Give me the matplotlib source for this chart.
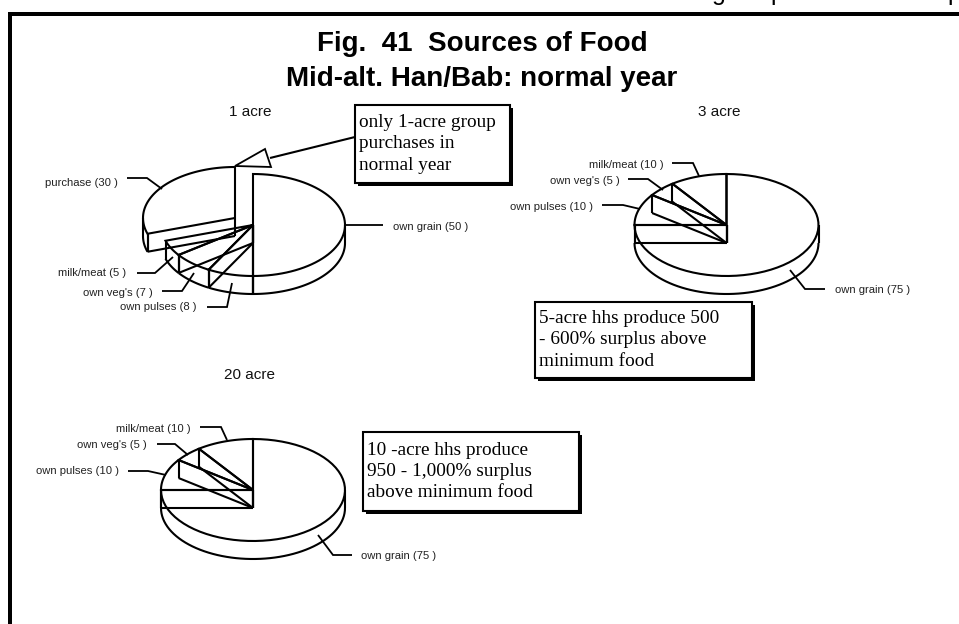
import numpy as np
import matplotlib
matplotlib.use("Agg")
import matplotlib.pyplot as plt
from matplotlib.patches import Polygon, Rectangle

W, H = 959, 624

# ---- data ----
cats_1 = ["own grain", "own pulses", "own veg's", "milk/meat", "purchase"]
vals_1 = [50, 8, 7, 5, 30]
cats_3 = ["own grain", "own pulses", "own veg's", "milk/meat"]
vals_3 = [75, 10, 5, 10]
cats_20 = ["own grain", "own pulses", "own veg's", "milk/meat"]
vals_20 = [75, 10, 5, 10]
pie_titles = ["1 acre", "3 acre", "20 acre"]
title_lines = ["Fig.  41  Sources of Food", "Mid-alt. Han/Bab: normal year"]
notes = ["only 1-acre group\npurchases in\nnormal year",
         "5-acre hhs produce 500\n- 600% surplus above\nminimum food",
         "10 -acre hhs produce\n950 - 1,000% surplus\nabove minimum food"]
cut_letters = ["g", "p", "p"]

RX, RY, DEPTH = 92, 51, 18
LW = 1.5

fig = plt.figure(figsize=(W / 100, H / 100), dpi=100)
ax = fig.add_axes([0, 0, 1, 1])
ax.set_xlim(0, W)
ax.set_ylim(H, 0)
ax.axis("off")


def pt(c, a, d=0.0):
    t = np.radians(a)
    return np.array([c[0] + RX * np.sin(t), c[1] - RY * np.cos(t) + d])


def line(xy, lw=LW, z=5):
    xy = np.asarray(xy)
    ax.plot(xy[:, 0], xy[:, 1], color="black", lw=lw, solid_joinstyle="miter",
            solid_capstyle="butt", zorder=z)


def arc(c, a0, a1, d=0.0):
    return np.array([pt(c, a, d) for a in np.linspace(a0, a1, 60)])


def draw_pie(vals, centers):
    """Wedges run clockwise from 12 o'clock; centers = per-slice apex."""
    edges = 360 * np.cumsum([0] + list(vals)) / sum(vals)
    for i in range(len(vals)):
        a0, a1, c = edges[i], edges[i + 1], centers[i]
        top = np.vstack([c, arc(c, a0, a1), c])
        ax.add_patch(Polygon(top, fc="white", ec="none", zorder=2))
        line(top, z=6)
        # outer wall: lower rim on the part of the arc that faces the viewer
        lo, hi = max(a0, 90), min(a1, 270)
        if lo < hi:
            line(arc(c, lo, hi, DEPTH))
            line([pt(c, lo), pt(c, lo, DEPTH)])
            line([pt(c, hi), pt(c, hi, DEPTH)])
        # start wall of the slice and the apex edge
        line([c, (c[0], c[1] + DEPTH)])
        if a0 > 0:
            line([pt(c, a0), pt(c, a0, DEPTH)])
            line([pt(c, a0, DEPTH), (c[0], c[1] + DEPTH)])


C1, C1b = (253, 225), (235, 218)
C3, C20 = (726.5, 225), (253, 490)
draw_pie(vals_1, [C1, C1, C1, C1, C1b])
draw_pie(vals_3, [C3] * 4)
draw_pie(vals_20, [C20] * 4)

# ---- page frame ----
ax.add_patch(Rectangle((8, 12), W, 4, fc="black", ec="none", zorder=8))
ax.add_patch(Rectangle((8, 12), 4, H, fc="black", ec="none", zorder=8))

# ---- titles ----
SANS = "Liberation Sans"
SERIF = "Liberation Serif"
# descenders of a line of text cut off by the top edge of the page
for x, s in zip([712, 770, 947], cut_letters):
    ax.text(x, 0, s, family=SANS, fontsize=18, ha="left", va="baseline", color="black")
ax.text(482, 44, title_lines[0], family=SANS, weight="bold", fontsize=20,
        ha="center", va="center", color="black")
ax.text(482, 79, title_lines[1], family=SANS, weight="bold", fontsize=20,
        ha="center", va="center", color="black")
for (x, y), s in zip([(250, 112), (719, 112), (250, 375)], pie_titles):
    ax.text(x, y, s, family=SANS, fontsize=11, ha="center", va="center", color="#111111")


# ---- labels and leaders ----
def lab(cat, v, x, y, ha, path):
    ax.text(x, y, f"{cat} ({v} )", family=SANS, fontsize=8.1, ha=ha, va="center", color="#222222")
    line(path, lw=1.3, z=7)


lab(cats_1[4], vals_1[4], 118, 183, "right", [(127, 178), (147, 178), (162, 189)])
lab(cats_1[0], vals_1[0], 393, 227, "left", [(346, 225), (383, 225)])
lab(cats_1[3], vals_1[3], 126, 273, "right", [(137, 273), (155, 273), (173, 257)])
lab(cats_1[2], vals_1[2], 153, 293, "right", [(162, 291), (182, 291), (194, 273)])
lab(cats_1[1], vals_1[1], 197, 307, "right", [(207, 307), (227, 307), (232, 283)])

lab(cats_3[3], vals_3[3], 664, 165, "right", [(672, 163), (693, 163), (699, 176)])
lab(cats_3[2], vals_3[2], 620, 181, "right", [(628, 179), (648, 179), (663, 190)])
lab(cats_3[1], vals_3[1], 593, 207, "right", [(602, 205), (623, 205), (640, 209)])
lab(cats_3[0], vals_3[0], 835, 290, "left", [(790, 270), (805, 289), (825, 289)])

lab(cats_20[3], vals_20[3], 191, 429, "right", [(200, 427), (221, 427), (227, 440)])
lab(cats_20[2], vals_20[2], 147, 445, "right", [(157, 444), (175, 444), (188, 455)])
lab(cats_20[1], vals_20[1], 119, 471, "right", [(128, 471), (148, 471), (166, 475)])
lab(cats_20[0], vals_20[0], 361, 556, "left", [(318, 535), (333, 555), (352, 555)])


# ---- note boxes ----
def note(x0, y0, x1, y1, s):
    ax.add_patch(Rectangle((x0 + 2.5, y0 + 2.5), x1 - x0, y1 - y0, fc="black", ec="none", zorder=9))
    ax.add_patch(Rectangle((x0, y0), x1 - x0, y1 - y0, fc="white", ec="black", lw=1.5, zorder=10))
    ax.text(x0 + 4, (y0 + y1) / 2, s, family=SERIF, fontsize=13.9, ha="left", va="center",
            linespacing=1.33, color="black", zorder=11)


note(355, 105, 510, 183, notes[0])
note(535, 302, 752, 378, notes[1])
note(363, 432, 579, 511, notes[2])

# ---- callout arrow ----
line([(355, 137), (270, 158)], z=7)
ax.add_patch(Polygon([(235, 166), (265, 149), (271, 167)], closed=True, fc="white", ec="black",
                     lw=1.3, zorder=7))

fig.savefig("out.png", dpi=100, facecolor="white")
